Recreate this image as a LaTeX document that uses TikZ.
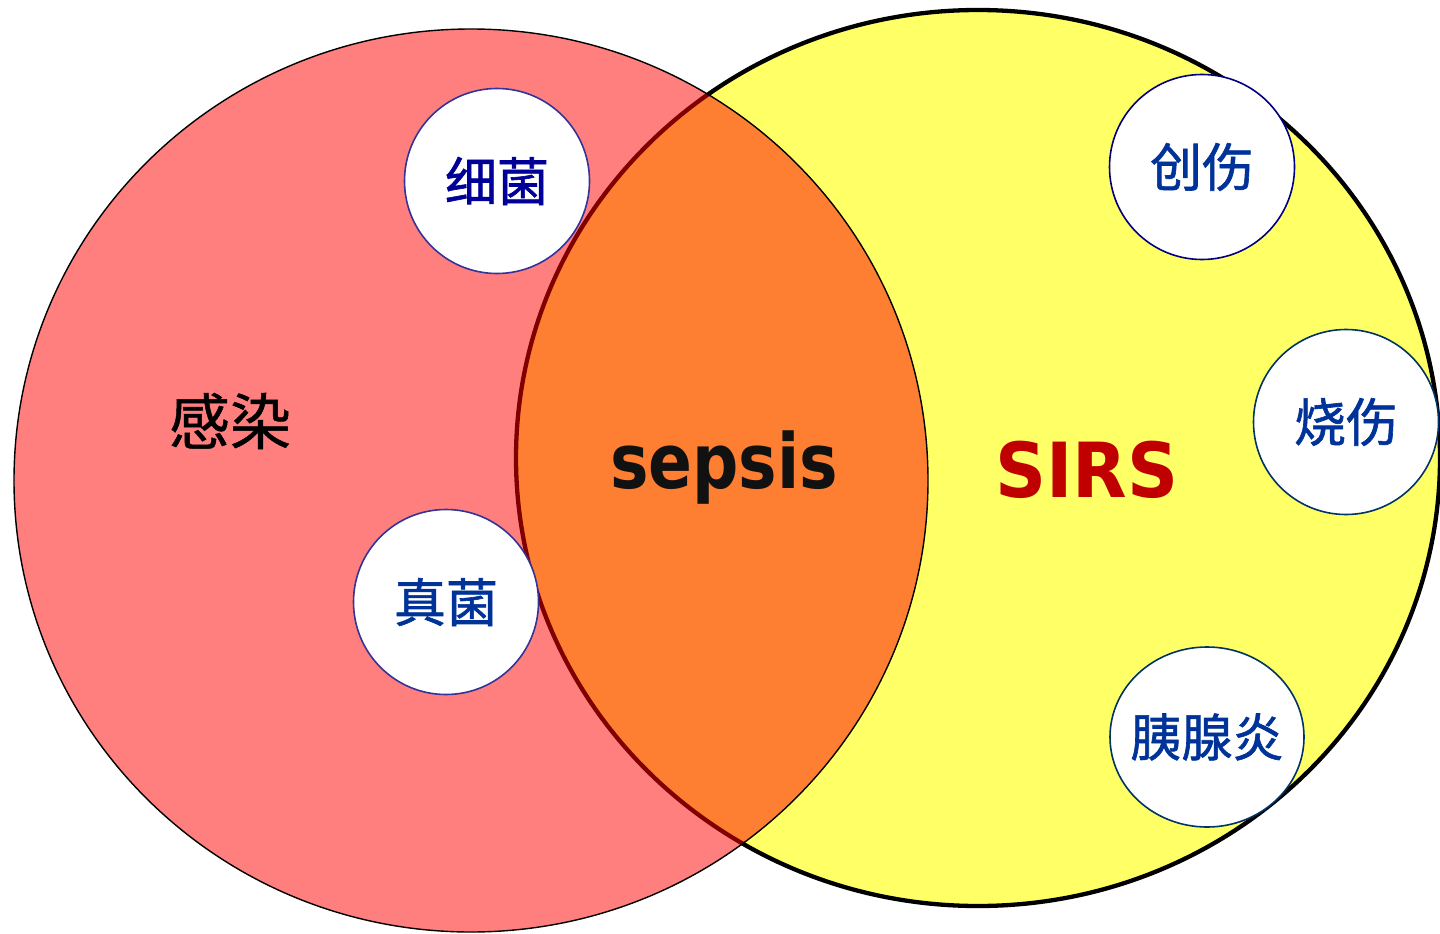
\documentclass[tikz,border=0pt]{standalone}
\usepackage{fontspec}
\usepackage{graphicx}
\usetikzlibrary{shapes.geometric}
\setmainfont{DejaVu Sans}
\newfontfamily\cjk[FakeBold=1.2]{Noto Sans CJK SC}
\newfontfamily\cjkt[FakeBold=0.8]{Noto Sans CJK SC}
\newfontfamily\latb{DejaVu Sans Bold}
\definecolor{yel}{HTML}{FFFF66}
\definecolor{navyA}{HTML}{000099}
\definecolor{blueB}{HTML}{003399}
\definecolor{ringA}{HTML}{333399}
\definecolor{ringB}{HTML}{000080}
\definecolor{ringC}{HTML}{003366}
\definecolor{sirsred}{HTML}{C00000}
\definecolor{sepsblack}{HTML}{111111}
\begin{document}
\begin{tikzpicture}[x=1pt,y=-1pt,
  bubble/.style={circle,fill=white,line width=1.6pt,minimum size=185pt,inner sep=0pt,
     font=\cjk\fontsize{52}{60}\selectfont},
  bigtext/.style={font=\latb\fontsize{76}{90}\selectfont,inner sep=0pt}]
\useasboundingbox (0,0) rectangle (1440,934);
% SIRS circle
\path[fill=yel,draw=black,line width=4.3pt] (978,458) ellipse [x radius=462,y radius=448];
% infection circle, half transparent red
\path[fill=red,fill opacity=0.5,draw=black,line width=1.4pt] (471,480.5) ellipse [x radius=457,y radius=451.5];
% bubbles
\node[bubble,draw=ringA,text=navyA] (xj) at (497,181) {细菌};
\node[bubble,draw=ringA,text=blueB] (zj) at (446,602) {真菌};
\node[bubble,draw=ringB,text=blueB] (cs) at (1202,167) {创伤};
\node[bubble,draw=ringC,text=blueB] (ss) at (1346,422) {烧伤};
\node[ellipse,fill=white,draw=ringC,line width=1.6pt,minimum width=194pt,minimum height=180pt,inner sep=0pt] (yx) at (1207,737) {};
\node[text=blueB,font=\cjk\fontsize{51}{60}\selectfont,inner sep=0pt] (yxt) at (yx.center) {胰腺炎};
% labels
\node[font=\cjkt\fontsize{61}{70}\selectfont,text=black,inner sep=0pt] (gr) at (230,421) {感染};
\node[bigtext,text=sepsblack,anchor=base west] (sep) at (610,488) {\resizebox{228pt}{\height}{sepsis}};
\node[bigtext,text=sirsred,anchor=base west] (sirs) at (995,497) {\resizebox{183pt}{\height}{SIRS}};
\end{tikzpicture}
\end{document}
